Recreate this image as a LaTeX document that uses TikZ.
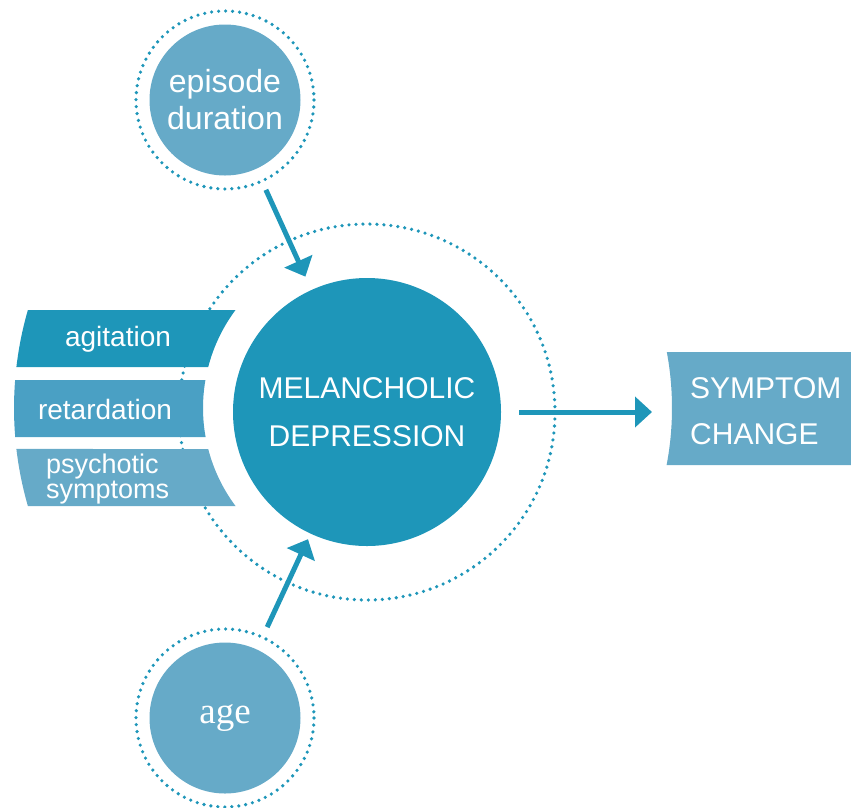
\documentclass[tikz,border=0pt]{standalone}
\usepackage{fontspec}
\setmainfont{Liberation Sans}
\newfontfamily\agefont{Liberation Serif}
\usepackage{tikz}
\usetikzlibrary{positioning,arrows.meta,calc}
\definecolor{deepclr}{RGB}{30,150,185}
\definecolor{midclr}{RGB}{74,160,196}
\definecolor{paleclr}{RGB}{102,170,200}
\tikzset{
  core/.style={circle,fill=deepclr,text=white,minimum size=268pt,inner sep=0pt,
               align=center,font=\fontsize{30}{48}\selectfont},
  factor/.style={circle,fill=paleclr,text=white,minimum size=151pt,inner sep=0pt,
                 align=center,font=\fontsize{32}{37}\selectfont},
  dotring/.style={draw=deepclr,line width=3.6pt,line cap=round,
                  dash pattern=on 0pt off 7pt},
  flow/.style={-{Triangle[length=17pt,width=30pt]},draw=deepclr,line width=5pt},
  tablabel/.style={text=white,inner sep=0pt,font=\fontsize{28}{25}\selectfont},
}
\newcommand{\bandpath}[4]{%
  ($(hub)+({180-asin(#1/#4)}:#4)$)
  arc[start angle={180-asin(#1/#4)},end angle={180-asin(#2/#4)},radius=#4]
  -- ($(hub)+({180-asin(#2/#3)}:#3)$)
  arc[start angle={180-asin(#2/#3)},end angle={180-asin(#1/#3)},radius=#3] -- cycle}

\begin{document}
\begin{tikzpicture}[x=1pt,y=-1pt]
\useasboundingbox (0,0) rectangle (851,807);
\coordinate (hub) at (367,408);
\draw[dotring] (367,412) circle[radius=188];

\fill[deepclr] \bandpath{-98}{-41}{164}{353};
\fill[midclr] \bandpath{-28}{29}{164}{353};
\fill[paleclr] \bandpath{41}{98}{164}{353};
\node[tablabel] (agit) at (118,339) {agitation};
\node[tablabel] (retard) at (105,409) {retardation};
\node[tablabel, anchor=west, align=left, font=\fontsize{27}{25}\selectfont]
  (psych) at (46,479) {psychotic\\symptoms};

\node[core] (melan) at (367,412) {MELANCHOLIC\\DEPRESSION};

\node[factor] (episode) at (225,100) {episode\\duration};
\draw[dotring] (episode) circle[radius=89];
\node[factor, font=\agefont\fontsize{37}{40}\selectfont] (age) at (225,718) {age};
\draw[dotring] (age) circle[radius=89];

\fill[paleclr] ($(hub)+({asin(-56/305)}:305)$)
  arc[start angle={asin(-56/305)},end angle={asin(57/305)},radius=305]
  -- (851,465) -- (851,352) -- cycle;
\node[text=white, anchor=west, align=left, inner sep=0pt,
      font=\fontsize{30}{46}\selectfont] (symptom) at (690,411) {SYMPTOM\\CHANGE};

\draw[flow, shorten <=23pt, shorten >=14.5pt] (episode) -- (melan);
\draw[flow, shorten <=24.5pt, shorten >=6pt] (age) -- (melan);
\draw[flow, shorten <=18pt, shorten >=38pt] (melan) -- (melan -| symptom.west);
\end{tikzpicture}
\end{document}
